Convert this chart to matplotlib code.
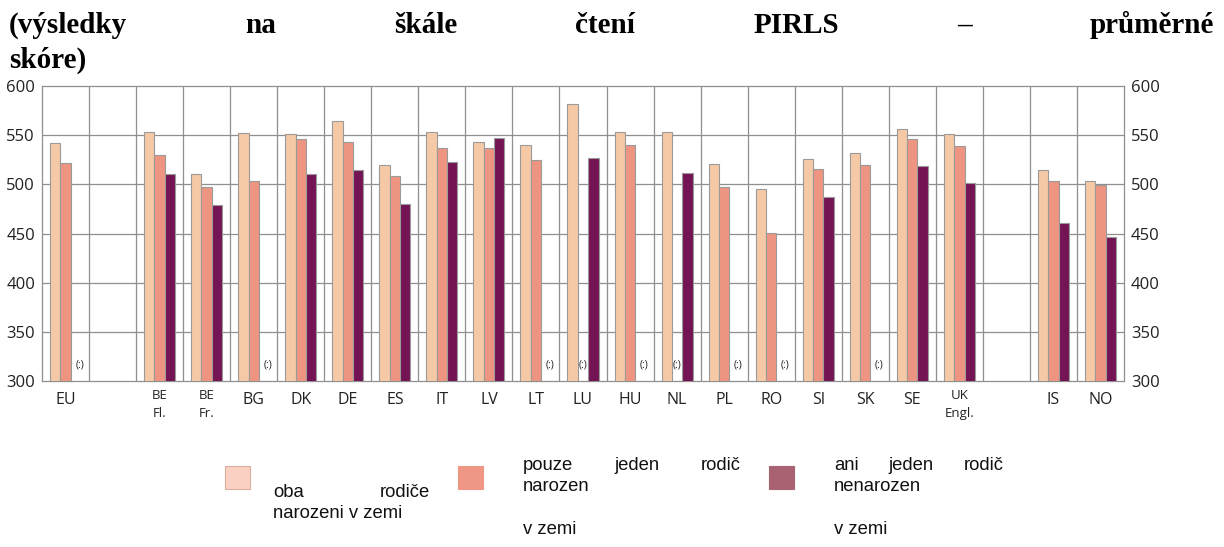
import numpy as np
import matplotlib
matplotlib.use("Agg")
import matplotlib.pyplot as plt
from matplotlib.patches import Rectangle
from matplotlib.transforms import blended_transform_factory

nan = np.nan
categories = ["EU", "", "BE\nFl.", "BE\nFr.", "BG", "DK", "DE", "ES", "IT", "LV", "LT",
              "LU", "HU", "NL", "PL", "RO", "SI", "SK", "SE", "UK\nEngl.", "", "IS", "NO"]
both_native = [542, nan, 553, 510, 552, 551, 564, 520, 553, 543, 540,
               582, 553, 553, 521, 495, 526, 532, 556, 551, nan, 515, 503]
one_native = [522, nan, 530, 497, 503, 546, 543, 508, 537, 537, 525,
              nan, 540, nan, 497, 451, 516, 520, 546, 539, nan, 503, 499]
none_native = [nan, nan, 510, 479, nan, 510, 515, 480, 523, 547, nan,
               527, nan, 512, nan, nan, 487, nan, 519, 501, nan, 461, 446]
yticks = [300, 350, 400, 450, 500, 550, 600]

title_words = ["(výsledky", "na", "škále", "čtení", "PIRLS", "–", "průměrné"]
title_line2 = "skóre)"

W, H = 1224, 547
fig = plt.figure(figsize=(W / 100, H / 100), dpi=100)
fig.patch.set_facecolor("white")

ax_l, ax_r, ax_t, ax_b = 42, 1124, 86, 381
ax = fig.add_axes([ax_l / W, 1 - ax_b / H, (ax_r - ax_l) / W, (ax_b - ax_t) / H])

c_light, c_mid, c_dark = "#F5C9A6", "#EE9582", "#751454"
edge = "#9a9a9a"
n = len(categories)
x = np.arange(n)
bw = 0.22
for vals, off, col in [(both_native, -bw, c_light), (one_native, 0, c_mid), (none_native, bw, c_dark)]:
    ax.bar(x + off, vals, width=bw, color=col, edgecolor=edge, linewidth=0.8, zorder=3)

sans = ["Open Sans", "DejaVu Sans"]

# missing-value markers
series = [both_native, one_native, none_native]
offs = [-bw, 0, bw + 0.08]
for i, cat in enumerate(categories):
    if cat == "":
        continue
    for s, o in zip(series, offs):
        if np.isnan(s[i]):
            ax.text(i + o, 316, "(:)", ha="center", va="center", fontsize=7.5,
                    family=sans, color="#222222", zorder=4)

ax.set_xlim(-0.5, n - 0.5)
ax.set_ylim(300, 600)
ax.set_yticks(yticks)
ax.set_xticks([])
for b in np.arange(0.5, n - 0.5, 1):
    ax.axvline(b, color="#8f8f8f", linewidth=0.9, zorder=1)
for yv in yticks[1:-1]:
    ax.axhline(yv, color="#8f8f8f", linewidth=0.9, zorder=1)
for sp in ax.spines.values():
    sp.set_color("#8f8f8f")
    sp.set_linewidth(0.9)
ax.tick_params(axis="y", length=0, pad=5, labelsize=12, labelright=True, right=False)
for lab in ax.get_yticklabels():
    lab.set_family(sans)
    lab.set_color("#222222")

# category labels (x in data, y in figure pixels)
ax_h = ax_b - ax_t
trans = blended_transform_factory(ax.transData, ax.transAxes)


def ypix(p):
    return (ax_b - p) / ax_h


for i, cat in enumerate(categories):
    if cat == "":
        continue
    lines = cat.split("\n")
    if len(lines) > 1:
        ax.text(i, ypix(399), lines[0], ha="center", va="baseline", fontsize=9.5,
                family=sans, color="#222222", transform=trans, clip_on=False)
        ax.text(i, ypix(417), lines[1], ha="center", va="baseline", fontsize=9.5,
                family=sans, color="#222222", transform=trans, clip_on=False)
    else:
        ax.text(i, ypix(404), cat, ha="center", va="baseline", fontsize=11.5,
                family=sans, color="#222222", transform=trans, clip_on=False)

renderer = fig.canvas.get_renderer()


def justified(words, left, right, base, **kw):
    texts = [fig.text(0, 1 - base / H, w, va="baseline", ha="left", **kw) for w in words]
    widths = [t.get_window_extent(renderer).width for t in texts]
    if len(words) > 1:
        gap = (right - left - sum(widths)) / (len(words) - 1)
    else:
        gap = 0
    xpos = left
    for t, w in zip(texts, widths):
        t.set_x(xpos / W)
        xpos += w + gap


tkw = dict(family=["Liberation Serif", "DejaVu Serif"], fontweight="bold", fontsize=21, color="black")
justified(title_words, 9, 1214, 33, **tkw)
fig.text(9 / W, 1 - 68 / H, title_line2, va="baseline", ha="left", **tkw)

lkw = dict(family=["Liberation Sans", "DejaVu Sans"], fontsize=13.3, color="#111111")
legend_cols = ["#F9D0C1", "#F09684", "#A86272"]
legend_patch_x = [225, 458, 769]
for px, col in zip(legend_patch_x, legend_cols):
    fig.add_artist(Rectangle((px / W, 1 - 489 / H), 25 / W, 23 / H, transform=fig.transFigure,
                             facecolor=col, edgecolor="#d9b0a0" if col == legend_cols[0] else col,
                             linewidth=0.8))

justified(["oba", "rodiče"], 273, 430, 497, **lkw)
fig.text(273 / W, 1 - 518 / H, "narozeni v zemi", va="baseline", ha="left", **lkw)

justified(["pouze", "jeden", "rodič"], 523, 741, 470, **lkw)
fig.text(523 / W, 1 - 491 / H, "narozen", va="baseline", ha="left", **lkw)
fig.text(523 / W, 1 - 534 / H, "v zemi", va="baseline", ha="left", **lkw)

justified(["ani", "jeden", "rodič"], 834, 1004, 470, **lkw)
fig.text(834 / W, 1 - 491 / H, "nenarozen", va="baseline", ha="left", **lkw)
fig.text(834 / W, 1 - 534 / H, "v zemi", va="baseline", ha="left", **lkw)

fig.savefig("out.png", dpi=100, facecolor="white")
